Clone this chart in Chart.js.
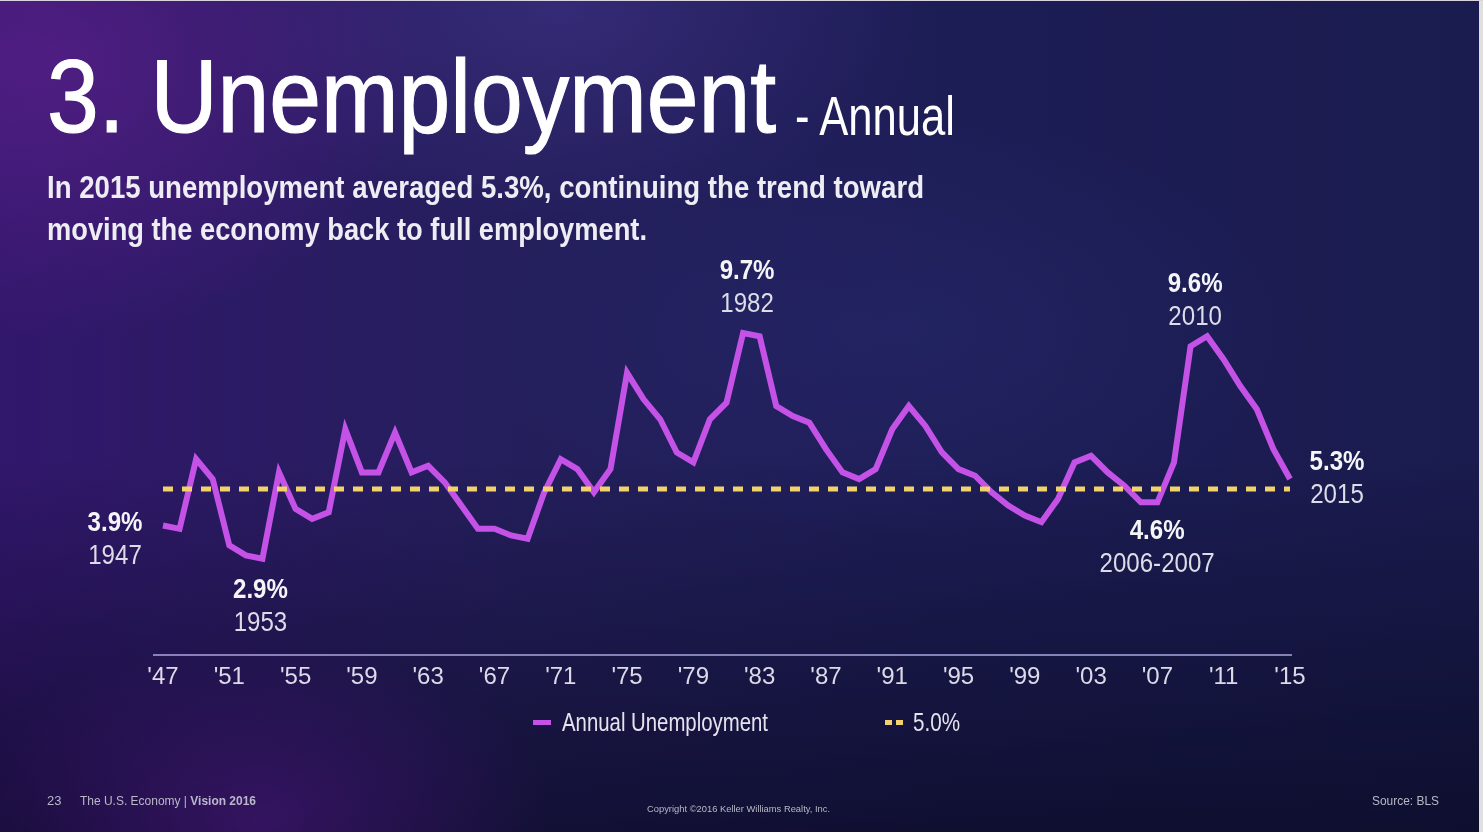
<!DOCTYPE html>
<html>
<head>
<meta charset="utf-8">
<title>3. Unemployment - Annual</title>
<script src="https://cdn.jsdelivr.net/npm/chart.js@4.4.1/dist/chart.umd.min.js"></script>
<style>
  html, body { margin: 0; padding: 0; }
  body {
    width: 1483px;
    height: 832px;
    overflow: hidden;
    position: relative;
    color: #fff;
    font-family: "Liberation Sans", Arial, sans-serif;
    background:
      radial-gradient(ellipse 560px 400px at 40px 60px, rgba(92, 32, 140, 0.7), transparent 70%),
      radial-gradient(ellipse 520px 300px at 560px 10px, rgba(74, 56, 150, 0.45), transparent 70%),
      radial-gradient(ellipse 420px 260px at 260px 820px, rgba(72, 22, 122, 0.6), transparent 70%),
      radial-gradient(ellipse 620px 300px at 900px 330px, rgba(46, 48, 124, 0.3), transparent 70%),
      linear-gradient(180deg, rgba(0, 0, 0, 0) 55%, rgba(6, 6, 26, 0.6) 100%),
      linear-gradient(90deg, #32176c 0%, #241f5c 35%, #1d1d56 65%, #1a1b4e 100%);
  }
  .txt { position: absolute; white-space: nowrap; line-height: 1; transform-origin: 0 0; }
  .title { top: 44px; font-size: 104px; -webkit-text-stroke: 1.2px #fff; }
  .title-small { top: 88px; font-size: 56px; }
  .sub { left: 47px; font-size: 32px; font-weight: bold; color: #eeedf4; }
  #chart-box { position: absolute; left: 0; top: 0; width: 1483px; height: 832px; }
  .legend-mark { position: absolute; height: 5px; }
  .legend-txt { font-size: 26px; color: #e4e3ee; }
  .foot { font-size: 13px; color: #b9b8c8; }
  #edge-right { position: absolute; left: 1479px; top: 0; width: 4px; height: 832px; background: #e2e0de; }
  #edge-top { position: absolute; left: 0; top: 0; width: 1483px; height: 1px; background: #d9d3e0; }
</style>
</head>
<body>
<div id="chart-box"><canvas id="unemployment-chart" width="1483" height="832"></canvas></div>

<div class="txt title" style="left:47px" data-w="729">3. Unemployment</div>
<div class="txt title-small" style="left:795px" data-w="160">- Annual</div>
<div class="txt sub" style="top:171px" data-w="877">In 2015 unemployment averaged 5.3%, continuing the trend toward</div>
<div class="txt sub" style="top:213px" data-w="600">moving the economy back to full employment.</div>

<!-- legend -->
<div class="legend-mark" style="left:533px; top:720px; width:18px; background:#c552e6"></div>
<div class="txt legend-txt" style="left:562px; top:709px" data-w="206">Annual Unemployment</div>
<div class="legend-mark" style="left:885px; top:720px; width:7px; background:#f2d26a"></div>
<div class="legend-mark" style="left:896px; top:720px; width:7px; background:#f2d26a"></div>
<div class="txt legend-txt" style="left:913px; top:709px" data-w="47">5.0%</div>

<!-- footer -->
<div class="txt foot" style="left:47px; top:794px">23</div>
<div class="txt foot" style="left:80px; top:794px" data-w="176">The U.S. Economy | <b>Vision 2016</b></div>
<div class="txt foot" style="left:647px; top:805px; font-size:9px" data-w="183">Copyright ©2016 Keller Williams Realty, Inc.</div>
<div class="txt foot" style="left:1372px; top:794px" data-w="67">Source: BLS</div>

<div id="edge-right"></div>
<div id="edge-top"></div>

<script>
// annual average unemployment rate (%), BLS
const years = [
  1947, 1948, 1949, 1950, 1951, 1952, 1953, 1954, 1955, 1956,
  1957, 1958, 1959, 1960, 1961, 1962, 1963, 1964, 1965, 1966,
  1967, 1968, 1969, 1970, 1971, 1972, 1973, 1974, 1975, 1976,
  1977, 1978, 1979, 1980, 1981, 1982, 1983, 1984, 1985, 1986,
  1987, 1988, 1989, 1990, 1991, 1992, 1993, 1994, 1995, 1996,
  1997, 1998, 1999, 2000, 2001, 2002, 2003, 2004, 2005, 2006,
  2007, 2008, 2009, 2010, 2011, 2012, 2013, 2014, 2015,
];
const unemployment = [
  3.9, 3.8, 5.9, 5.3, 3.3, 3.0, 2.9, 5.5, 4.4, 4.1,
  4.3, 6.8, 5.5, 5.5, 6.7, 5.5, 5.7, 5.2, 4.5, 3.8,
  3.8, 3.6, 3.5, 4.9, 5.9, 5.6, 4.9, 5.6, 8.5, 7.7,
  7.1, 6.1, 5.8, 7.1, 7.6, 9.7, 9.6, 7.5, 7.2, 7.0,
  6.2, 5.5, 5.3, 5.6, 6.8, 7.5, 6.9, 6.1, 5.6, 5.4,
  4.9, 4.5, 4.2, 4.0, 4.7, 5.8, 6.0, 5.5, 5.1, 4.6,
  4.6, 5.8, 9.3, 9.6, 8.9, 8.1, 7.4, 6.2, 5.3,
];
const fullEmployment = 5.0;

const tickYears = [1947, 1951, 1955, 1959, 1963, 1967, 1971, 1975, 1979, 1983, 1987, 1991, 1995, 1999, 2003, 2007, 2011, 2015];
const tickLabels = ["'47", "'51", "'55", "'59", "'63", "'67", "'71", "'75", "'79", "'83", "'87", "'91", "'95", "'99", "'03", "'07", "'11", "'15"];

// highlighted points: the years each callout refers to
const calloutYears = [[1947], [1953], [1982], [2006, 2007], [2010], [2015]];

const FONT = '"Liberation Sans", Arial, sans-serif';
const LINE_COLOR = "#c552e6";
const DASH_COLOR = "#f2d26a";
const NARROW = 0.86; // condensed look for canvas text

// where each callout sits relative to its point (bold value line centre)
const calloutOffsets = [
  { dx: -48, dy: -2 },
  { dx: -2, dy: 32 },
  { dx: 4, dy: -62 },
  { dx: 8, dy: 29 },
  { dx: -12, dy: -52 },
  { dx: 47, dy: -17 },
];

// squeeze html labels to their set widths
document.querySelectorAll("[data-w]").forEach((el) => {
  const w = el.getBoundingClientRect().width;
  el.style.transform = `scaleX(${el.dataset.w / w})`;
});

function narrowText(ctx, text, x, y) {
  ctx.save();
  ctx.translate(x, y);
  ctx.scale(NARROW, 1);
  ctx.fillText(text, 0, 0);
  ctx.restore();
}

const calloutPlugin = {
  id: "callouts",
  afterDatasetsDraw(chart) {
    const { ctx, scales, chartArea } = chart;
    const x = scales.x;
    const y = scales.y;
    ctx.save();

    // baseline under the plot
    ctx.strokeStyle = "rgba(172, 165, 222, 0.75)";
    ctx.lineWidth = 2;
    ctx.beginPath();
    ctx.moveTo(chartArea.left - 10, chartArea.bottom);
    ctx.lineTo(chartArea.right + 2, chartArea.bottom);
    ctx.stroke();

    ctx.textAlign = "center";
    ctx.textBaseline = "middle";
    calloutYears.forEach((ys, i) => {
      const idx = ys.map((yr) => years.indexOf(yr));
      const value = unemployment[idx[0]];
      const px = idx.reduce((s, k) => s + x.getPixelForValue(k), 0) / idx.length;
      const py = y.getPixelForValue(value);
      const off = calloutOffsets[i];

      ctx.fillStyle = "#f5f5f8";
      ctx.font = "bold 28px " + FONT;
      narrowText(ctx, value.toFixed(1) + "%", px + off.dx, py + off.dy);

      ctx.fillStyle = "#dddce8";
      ctx.font = "28px " + FONT;
      narrowText(ctx, ys.join("-"), px + off.dx, py + off.dy + 33);
    });
    ctx.restore();
  },
};

const ctx = document.getElementById("unemployment-chart").getContext("2d");
new Chart(ctx, {
  type: "line",
  data: {
    labels: years,
    datasets: [
      {
        label: "Annual Unemployment",
        data: unemployment,
        borderColor: LINE_COLOR,
        borderWidth: 6,
        pointRadius: 0,
        tension: 0,
        order: 2,
      },
      {
        label: "5.0%",
        data: years.map(() => fullEmployment),
        borderColor: DASH_COLOR,
        borderWidth: 5,
        borderDash: [10, 9],
        pointRadius: 0,
        order: 1,
      },
    ],
  },
  options: {
    responsive: false,
    animation: false,
    layout: { padding: { left: 163, right: 193, top: 323, bottom: 137 } },
    plugins: {
      legend: { display: false },
      tooltip: { enabled: false },
    },
    scales: {
      x: {
        grid: { display: false },
        border: { display: false },
        afterFit(scale) {
          scale.height = 40;
        },
        ticks: {
          autoSkip: false,
          maxRotation: 0,
          padding: 0,
          color: "#dcdae8",
          font: { family: FONT, size: 24 },
          callback(value, index) {
            const t = tickYears.indexOf(years[index]);
            return t >= 0 ? tickLabels[t] : "";
          },
        },
      },
      y: { display: false, min: 0, max: 10 },
    },
  },
  plugins: [calloutPlugin],
});
</script>
</body>
</html>
